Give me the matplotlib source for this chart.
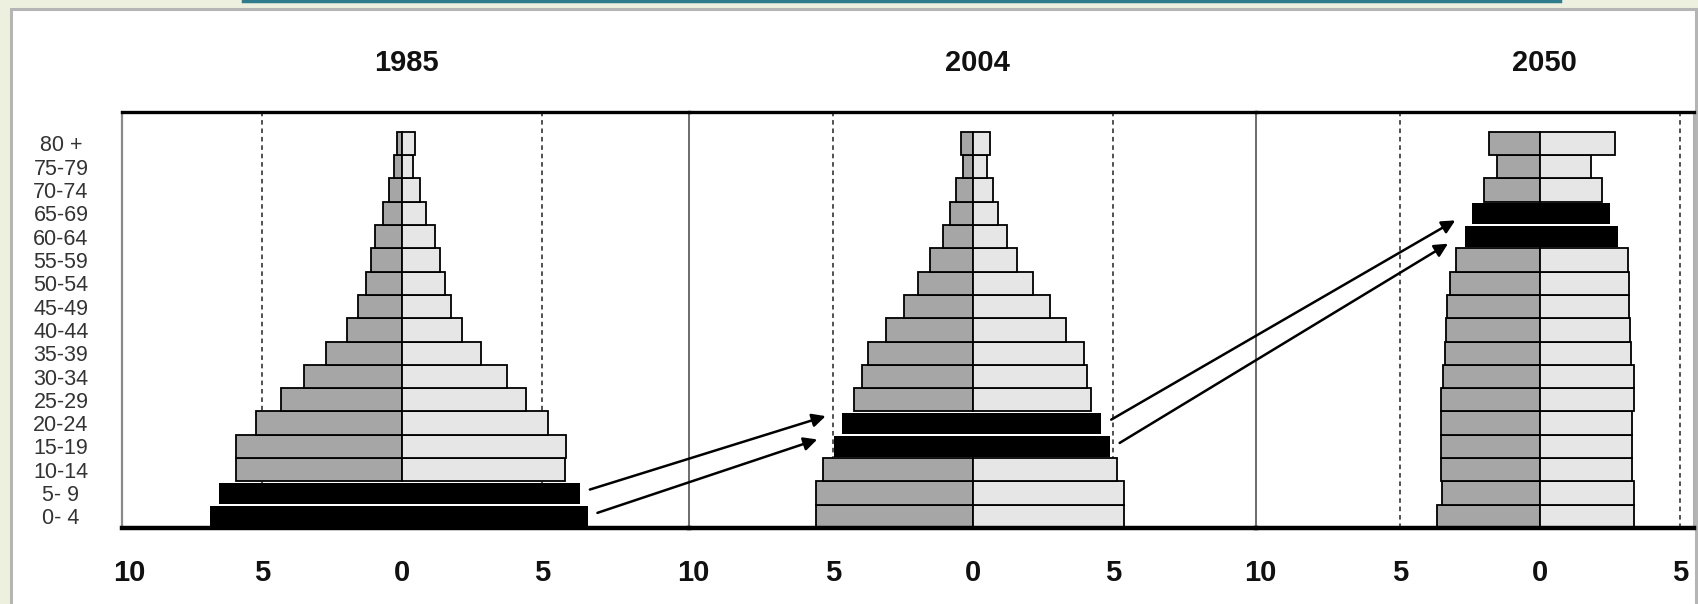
import matplotlib.pyplot as plt
import matplotlib.transforms as mtransforms
from matplotlib.patches import Rectangle, ConnectionPatch
from matplotlib.lines import Line2D

plt.rcParams['font.family'] = ['Liberation Sans', 'DejaVu Sans']

age_groups = ["0- 4", "5- 9", "10-14", "15-19", "20-24", "25-29", "30-34", "35-39",
              "40-44", "45-49", "50-54", "55-59", "60-64", "65-69", "70-74", "75-79", "80 +"]
years = ["1985", "2004", "2050"]

# share of population (%), left half and right half of each pyramid, youngest first
left_1985 = [6.87, 6.55, 5.93, 5.93, 5.22, 4.33, 3.50, 2.71, 1.98, 1.57, 1.28, 1.11, 0.95, 0.68, 0.48, 0.27, 0.18]
right_1985 = [6.63, 6.36, 5.81, 5.85, 5.23, 4.44, 3.75, 2.82, 2.15, 1.75, 1.55, 1.35, 1.17, 0.86, 0.65, 0.39, 0.45]
left_2004 = [5.62, 5.62, 5.38, 4.97, 4.67, 4.24, 3.96, 3.76, 3.10, 2.46, 1.96, 1.55, 1.07, 0.83, 0.60, 0.38, 0.42]
right_2004 = [5.37, 5.37, 5.13, 4.88, 4.58, 4.22, 4.06, 3.94, 3.30, 2.76, 2.14, 1.55, 1.19, 0.89, 0.69, 0.48, 0.60]
left_2050 = [3.67, 3.52, 3.55, 3.55, 3.55, 3.55, 3.47, 3.40, 3.37, 3.31, 3.22, 3.01, 2.69, 2.43, 1.99, 1.53, 1.81]
right_2050 = [3.35, 3.35, 3.28, 3.28, 3.28, 3.37, 3.35, 3.25, 3.21, 3.19, 3.19, 3.13, 2.77, 2.49, 2.23, 1.81, 2.69]

# highlighted cohort rows in each pyramid
cohort_1985 = [0, 1]
cohort_2004 = [3, 4]
cohort_2050 = [12, 13]

# cohort arrows: (from pyramid, row) -> (to pyramid, row)
links = [(0, 1, 1, 4), (0, 0, 1, 3), (1, 4, 2, 13), (1, 3, 2, 12)]

lefts = [left_1985, left_2004, left_2050]
rights = [right_1985, right_2004, right_2050]
cohorts = [cohort_1985, cohort_2004, cohort_2050]

W, H = 1698, 604
fig = plt.figure(figsize=(W / 100, H / 100), dpi=100)
fig.patch.set_facecolor('#edf0df')

# white slide panel + teal strip above
fig.add_artist(Rectangle((11 / W, -0.01), (1696 - 11) / W, 1.01 - 9 / H, transform=fig.transFigure,
                         facecolor='white', edgecolor='#b5b5b5', lw=2.2, zorder=0))
fig.add_artist(Line2D([243 / W, 1560 / W], [1 - 1.2 / H] * 2, color='#2f7d8c', lw=2.5))

bottom = 1 - 528 / H
top = 1 - 112 / H
panels = [(122, 689, (-10, 10.25)), (689, 1256, (-10.15, 10.1)), (1256, 1694, (-10.15, 5.5))]

axes = []
for k, (x0, x1, xl) in enumerate(panels):
    ax = fig.add_axes([x0 / W, bottom, (x1 - x0) / W, top - bottom])
    ax.set_facecolor('none')
    ax.set_xlim(*xl)
    ax.set_ylim(-0.5, 17.35)

    for v in (-5, 5):
        ax.axvline(v, color='#222222', lw=1.1, ls=(0, (3, 2.5)), zorder=1)

    rows = range(len(age_groups))
    norm = [i for i in rows if i not in cohorts[k]]
    ax.barh(norm, [-lefts[k][i] for i in norm], height=1.0, color='#a6a6a6',
            edgecolor='black', lw=1.3, zorder=2)
    ax.barh(norm, [rights[k][i] for i in norm], height=1.0, color='#e6e6e6',
            edgecolor='black', lw=1.3, zorder=2)
    hl = cohorts[k]
    ax.barh(hl, [-lefts[k][i] for i in hl], height=0.9, color='black', lw=0, zorder=3)
    ax.barh(hl, [rights[k][i] for i in hl], height=0.9, color='black', lw=0, zorder=3)

    ax.spines['top'].set_linewidth(2.4)
    ax.spines['bottom'].set_linewidth(3.2)
    ax.spines['top'].set_color('black')
    ax.spines['bottom'].set_color('black')
    if k == 0:
        ax.spines['left'].set_color('#8a8a8a')
        ax.spines['left'].set_linewidth(1.6)
    else:
        ax.spines['left'].set_color('#444444')
        ax.spines['left'].set_linewidth(1.1)
    if k == 2:
        ax.spines['right'].set_color('#b0b0b0')
        ax.spines['right'].set_linewidth(1.5)
    else:
        ax.spines['right'].set_visible(False)

    ticks = [-10, -5, 0, 5]
    ax.set_xticks(ticks)
    ax.set_xticklabels([str(abs(t)) for t in ticks], fontsize=21, fontweight='bold', color='#111111')
    ax.tick_params(axis='x', length=0, pad=22)
    if k == 0:
        # first "10" sits a little inside the left edge
        first = ax.get_xticklabels()[0]
        first.set_transform(first.get_transform() + mtransforms.ScaledTranslation(0.07, 0, fig.dpi_scale_trans))

    if k == 0:
        ax.set_yticks(list(rows))
        ax.set_yticklabels(age_groups, fontsize=15.5, color='#333333')
        for lab in ax.get_yticklabels():
            lab.set_horizontalalignment('center')
        ax.tick_params(axis='y', length=0, pad=44)
    else:
        ax.set_yticks([])

    tr = mtransforms.blended_transform_factory(ax.transData, fig.transFigure)
    ax.text(0.15, 1 - 63 / H, years[k], transform=tr, ha='center', va='center',
            fontsize=21, fontweight='bold', color='#111111')
    axes.append(ax)

# arrows following the cohorts from one pyramid to the next
for a, ra, b, rb in links:
    start = (rights[a][ra] + 0.35, ra + 0.15)
    end = (-lefts[b][rb] - 0.6, rb + (0.3 if b == 1 else -0.3))
    con = ConnectionPatch(xyA=start, coordsA=axes[a].transData,
                          xyB=end, coordsB=axes[b].transData,
                          arrowstyle='-|>', mutation_scale=20, lw=1.8, color='black', zorder=5)
    fig.add_artist(con)

fig.savefig('out.png', dpi=100, facecolor=fig.get_facecolor())
